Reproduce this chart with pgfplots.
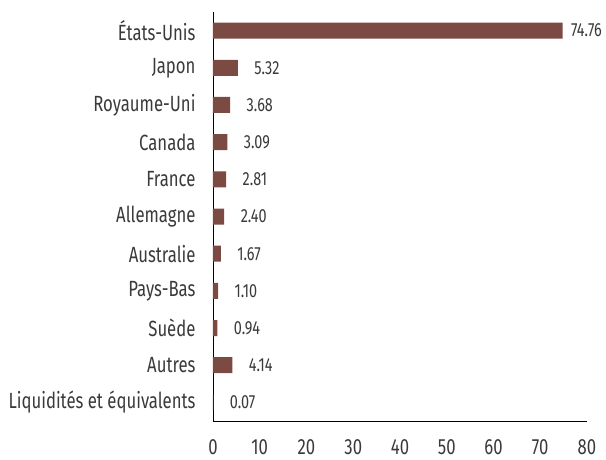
\documentclass[border=0pt]{standalone}
\usepackage{fontspec}
\setmainfont{Fira Sans}[FakeStretch=0.76]
\usepackage{pgfplots}
\pgfplotsset{compat=1.18}
\definecolor{barc}{HTML}{7B4A42}
\definecolor{txt}{HTML}{3A3A3A}
\begin{document}
\begin{tikzpicture}
\path[use as bounding box] (0,0) rectangle (606pt,459pt);
\begin{axis}[
  at={(213pt,38pt)}, anchor=south west,
  scale only axis, width=374pt, height=409pt,
  xbar, bar width=16pt,
  xmin=0, xmax=80, ymin=-0.5, ymax=10.5,
  y dir=reverse,
  axis x line*=bottom, axis y line*=left,
  axis line style={black, line width=0.8pt},
  xtick={0,10,...,80}, ytick={0,...,10},
  yticklabels={États-Unis,Japon,Royaume-Uni,Canada,France,Allemagne,Australie,Pays-Bas,Suède,Autres,Liquidités et équivalents},
  major tick length=0pt,
  tick style={draw=none},
  /pgf/number format/assume math mode=true,
  xticklabel style={font=\fontsize{22}{23}\selectfont, text=txt, yshift=-15pt},
  yticklabel style={font=\fontsize{22}{23}\selectfont, text=txt, xshift=-14pt},
  visualization depends on={\thisrow{off}\as\off},
  nodes near coords={\pgfmathprintnumber[fixed,fixed zerofill,precision=2]{\pgfplotspointmeta}},
  point meta=x,
  nodes near coords style={anchor=west, font=\fontsize{19}{20}\selectfont, text=txt, xshift=\off pt},
]
\addplot[fill=barc, draw=none] table[x=v, y=i] {
i v off
0 74.76 5
1 5.32 13
2 3.68 13
3 3.09 13
4 2.81 13
5 2.40 13
6 1.67 13
7 1.10 13
8 0.94 13
9 4.14 13
10 0.07 13
};
\end{axis}
\end{tikzpicture}
\end{document}
